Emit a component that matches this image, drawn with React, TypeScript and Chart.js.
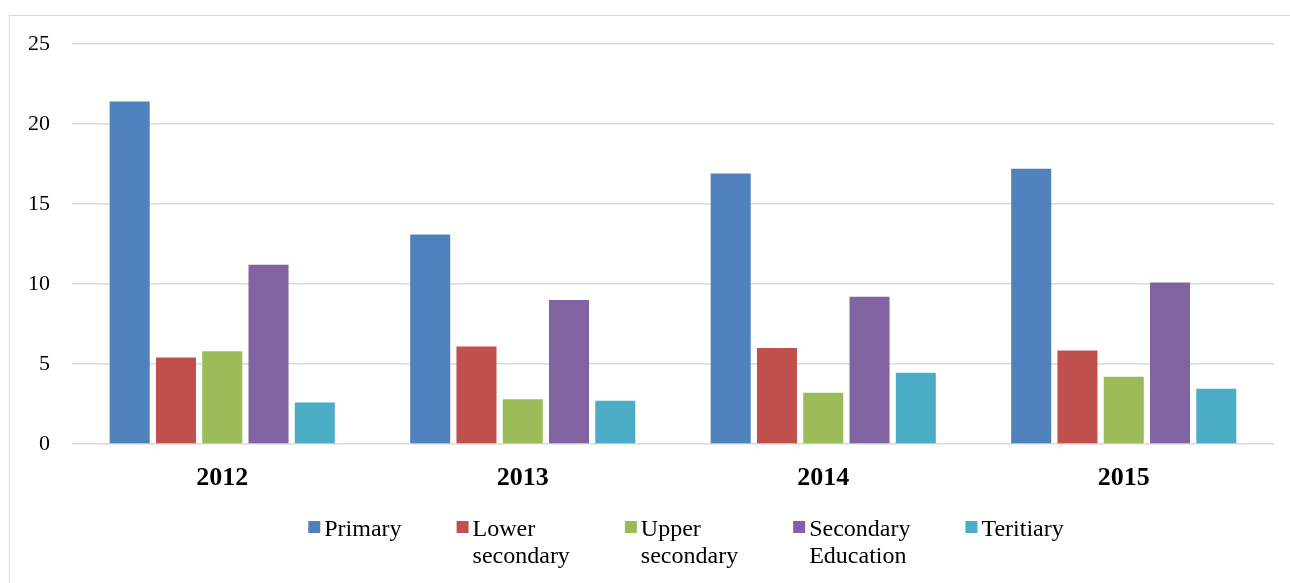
import React, { useEffect, useRef } from "react";
import { Chart, registerables } from "chart.js";

Chart.register(...registerables);

const categories = ["2012", "2013", "2014", "2015"];
const seriesLabels = ["Primary", "Lower secondary", "Upper secondary", "Secondary Education", "Teritiary"];
const seriesColors = ["#4F81BD", "#C0504D", "#9BBB59", "#8064A2", "#4BACC6"];
const primary = [21.4, 13.1, 16.9, 17.2];
const lowerSecondary = [5.4, 6.1, 6.0, 5.85];
const upperSecondary = [5.8, 2.8, 3.2, 4.2];
const secondaryEducation = [11.2, 9.0, 9.2, 10.1];
const tertiary = [2.6, 2.7, 4.45, 3.45];
const yTicks = [0, 5, 10, 15, 20, 25];

const seriesValues = [primary, lowerSecondary, upperSecondary, secondaryEducation, tertiary];

const SERIF = '"Liberation Serif", "Times New Roman", Times, serif';

function wrapText(ctx: CanvasRenderingContext2D, text: string, maxW: number): string[] {
  const words = text.split(" ");
  const lines: string[] = [];
  let cur = "";
  for (const w of words) {
    const test = cur ? cur + " " + w : w;
    if (cur && ctx.measureText(test).width > maxW) {
      lines.push(cur);
      cur = w;
    } else {
      cur = test;
    }
  }
  if (cur) lines.push(cur);
  return lines;
}

const wrappedLegend = {
  id: "wrappedLegend",
  afterDraw(chart: any) {
    const ctx: CanvasRenderingContext2D = chart.ctx;
    const area = chart.chartArea;
    ctx.save();
    ctx.font = "24px " + SERIF;
    ctx.textBaseline = "alphabetic";
    ctx.textAlign = "left";
    const box = 12;
    const textGap = 4;
    const gap = 55;
    const lineH = 27;
    const items = chart.data.datasets.map((ds: any) => {
      const lines = wrapText(ctx, ds.label, 105);
      const w = Math.max(...lines.map((l: string) => ctx.measureText(l).width));
      return { lines, w, color: ds.backgroundColor };
    });
    const total =
      items.reduce((s: number, it: any) => s + box + textGap + it.w, 0) + gap * (items.length - 1);
    let x = (area.left + area.right) / 2 + 13 - total / 2;
    const baseY = area.bottom + 92;
    for (const it of items) {
      ctx.fillStyle = it.color;
      ctx.fillRect(x, baseY - 15, box, box);
      ctx.fillStyle = "#000";
      it.lines.forEach((l: string, i: number) => {
        ctx.fillText(l, x + box + textGap, baseY + i * lineH);
      });
      x += box + textGap + it.w + gap;
    }
    ctx.restore();
  },
};

export default function App() {
  const ref = useRef<HTMLCanvasElement>(null);

  useEffect(() => {
    if (!ref.current) return;
    const chart = new Chart(ref.current, {
      type: "bar",
      data: {
        labels: categories,
        datasets: seriesLabels.map((label, i) => ({
          label,
          data: seriesValues[i],
          backgroundColor: seriesColors[i],
          borderWidth: 0,
          categoryPercentage: 0.77,
          barPercentage: 0.865,
        })),
      },
      options: {
        responsive: false,
        animation: false,
        layout: { padding: { top: 44, right: 16, left: 0, bottom: 0 } },
        plugins: {
          legend: { display: false },
          tooltip: { enabled: false },
        },
        scales: {
          x: {
            grid: { display: false },
            border: { display: false },
            ticks: {
              color: "#000",
              font: { family: SERIF, size: 26, weight: "bold" },
              padding: 11,
            },
            afterFit: (scale: any) => {
              scale.height = 139;
            },
          },
          y: {
            min: 0,
            max: 25,
            afterBuildTicks: (scale: any) => {
              scale.ticks = yTicks.map((v) => ({ value: v }));
            },
            grid: { color: "#d9d9d9", lineWidth: 1.5, drawTicks: false },
            border: { display: false },
            ticks: {
              color: "#000",
              font: { family: SERIF, size: 22 },
              padding: 22,
            },
            afterFit: (scale: any) => {
              scale.width = 72;
            },
          },
        },
      },
      plugins: [wrappedLegend],
    });
    return () => chart.destroy();
  }, []);

  return (
    <div
      style={{
        position: "fixed",
        left: 0,
        top: 0,
        width: 1290,
        height: 583,
        overflow: "hidden",
        background: "#fff",
      }}
    >
      <div
        style={{
          position: "absolute",
          left: 9,
          top: 15,
          width: 1300,
          height: 600,
          border: "1px solid #d9d9d9",
        }}
      />
      <canvas
        ref={ref}
        width={1290}
        height={583}
        style={{ position: "absolute", left: 0, top: 0, display: "block" }}
      />
    </div>
  );
}
